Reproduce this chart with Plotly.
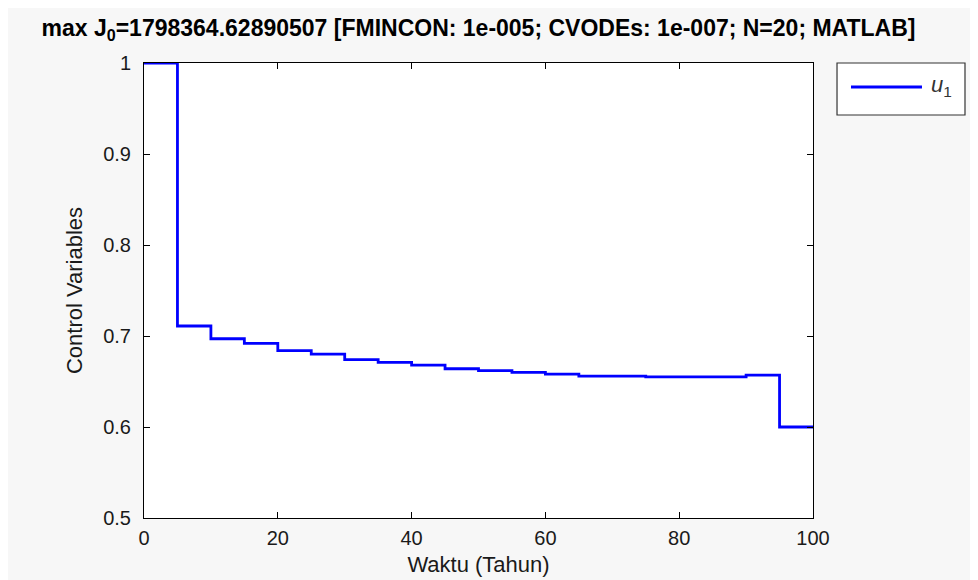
import plotly.graph_objects as go

# Data: piecewise-constant control (N=20 intervals of 5 years)
t_breaks = [0, 5, 10, 15, 20, 25, 30, 35, 40, 45, 50, 55, 60, 65, 70, 75, 80, 85, 90, 95, 100]
u1_values = [1.0, 0.711, 0.697, 0.692, 0.684, 0.680, 0.674, 0.671, 0.668, 0.664,
             0.662, 0.660, 0.658, 0.656, 0.656, 0.655, 0.655, 0.655, 0.657, 0.600]
x_ticks = [0, 20, 40, 60, 80, 100]
y_ticks = [0.5, 0.6, 0.7, 0.8, 0.9, 1.0]
y_tick_labels = ["0.5", "0.6", "0.7", "0.8", "0.9", "1"]
series_name = "<i>u</i><sub>1</sub>"

y_plot = u1_values + [u1_values[-1]]

FONT = "Arial, Liberation Sans, sans-serif"
TXT = "#1a1a1a"
LINE_COLOR = "#0000ff"

fig = go.Figure()
fig.add_trace(go.Scatter(
    x=t_breaks, y=y_plot, mode="lines", line_shape="hv",
    line=dict(color=LINE_COLOR, width=2.8),
    name=series_name, showlegend=False,
))

axis_common = dict(
    showline=True, linecolor="black", linewidth=1, mirror="ticks",
    ticks="inside", ticklen=6, tickcolor="black", tickwidth=1,
    showgrid=False, zeroline=False, automargin=False,
    tickfont=dict(family=FONT, size=20, color=TXT),
)

# MATLAB-style legend box (drawn in paper coordinates)
lg_x0, lg_x1, lg_y0, lg_y1 = 1.0359, 1.2272, 0.8857, 1.0
fig.add_shape(type="rect", xref="paper", yref="paper",
              x0=lg_x0, x1=lg_x1, y0=lg_y0, y1=lg_y1,
              line=dict(color="#333", width=1.2), fillcolor="white", layer="above")
fig.add_shape(type="line", xref="paper", yref="paper",
              x0=1.0568, x1=1.1629, y0=0.9473, y1=0.9473,
              line=dict(color=LINE_COLOR, width=3.2))
fig.add_annotation(xref="paper", yref="paper", x=1.174, y=0.950,
                   xanchor="left", yanchor="middle", showarrow=False,
                   text=series_name, font=dict(family=FONT, size=22, color="#333"))

fig.update_layout(
    width=970, height=572,
    paper_bgcolor="#f7f7f7", plot_bgcolor="white",
    margin=dict(l=136, r=165, t=55, b=62),
    title=dict(
        text="<b>max J<sub>0</sub>=1798364.62890507 [FMINCON: 1e-005; CVODEs: 1e-007; N=20; MATLAB]</b>",
        x=0.5, xref="paper", xanchor="center",
        y=1 - 20 / 572, yref="container", yanchor="middle",
        font=dict(family=FONT, size=23, color="black"),
    ),
    xaxis=dict(range=[0, 100], tickvals=x_ticks, ticklabelstandoff=2,
               title=dict(text="Waktu (Tahun)", font=dict(family=FONT, size=22, color=TXT), standoff=8),
               **axis_common),
    yaxis=dict(range=[0.5, 1.0], tickvals=y_ticks, ticktext=y_tick_labels, ticklabelstandoff=8,
               title=dict(text="Control Variables", font=dict(family=FONT, size=22, color=TXT), standoff=14),
               **axis_common),
    showlegend=False,
)

fig.write_html("out.html")
